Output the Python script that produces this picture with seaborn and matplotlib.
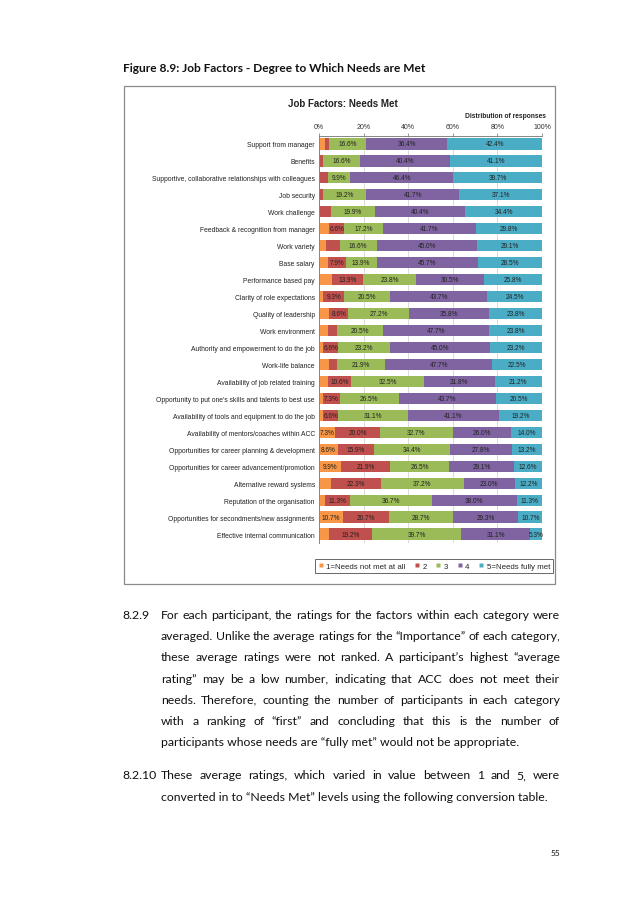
import numpy as np
import matplotlib
matplotlib.use("Agg")
import matplotlib.pyplot as plt
import seaborn as sns
from matplotlib.patches import Rectangle
from matplotlib.lines import Line2D

# ---- data (percent of responses) ----
factors = [
    "Support from manager",
    "Benefits",
    "Supportive, collaborative relationships with colleagues",
    "Job security",
    "Work challenge",
    "Feedback & recognition from manager",
    "Work variety",
    "Base salary",
    "Performance based pay",
    "Clarity of role expectations",
    "Quality of leadership",
    "Work environment",
    "Authority and empowerment to do the job",
    "Work-life balance",
    "Availability of job related training",
    "Opportunity to put one's skills and talents to best use",
    "Availability of tools and equipment to do the job",
    "Availability of mentors/coaches within ACC",
    "Opportunities for career planning & development",
    "Opportunities for career advancement/promotion",
    "Alternative reward systems",
    "Reputation of the organisation",
    "Opportunities for secondments/new assignments",
    "Effective internal communication",
]
needs_1 = [2.7, 0.0, 0.0, 0.0, 0.0, 4.7, 3.3, 4.0, 6.0, 2.0, 4.6, 4.0,
           2.0, 4.6, 3.9, 2.0, 2.0, 7.3, 8.6, 9.9, 5.3, 2.7, 10.7, 4.7]
needs_2 = [1.9, 1.9, 4.0, 2.0, 5.3, 6.6, 6.0, 7.9, 13.9, 9.3, 8.6, 4.0,
           6.6, 3.3, 10.6, 7.3, 6.6, 20.0, 15.9, 21.9, 22.3, 11.3, 20.7, 19.2]
needs_3 = [16.6, 16.6, 9.9, 19.2, 19.9, 17.2, 16.6, 13.9, 23.8, 20.5, 27.2, 20.5,
           23.2, 21.9, 32.5, 26.5, 31.1, 32.7, 34.4, 26.5, 37.2, 36.7, 28.7, 39.7]
needs_4 = [36.4, 40.4, 46.4, 41.7, 40.4, 41.7, 45.0, 45.7, 30.5, 43.7, 35.8, 47.7,
           45.0, 47.7, 31.8, 43.7, 41.1, 26.0, 27.8, 29.1, 23.0, 38.0, 29.3, 31.1]
needs_5 = [42.4, 41.1, 39.7, 37.1, 34.4, 29.8, 29.1, 28.5, 25.8, 24.5, 23.8, 23.8,
           23.2, 22.5, 21.2, 20.5, 19.2, 14.0, 13.2, 12.6, 12.2, 11.3, 10.7, 5.3]
levels = ["1=Needs not met at all", "2", "3", "4", "5=Needs fully met"]
xticks = [0, 20, 40, 60, 80, 100]

para_1 = [
    "For each participant, the ratings for the factors within each category were",
    "averaged. Unlike the average ratings for the \u201cImportance\u201d of each category,",
    "these average ratings were not ranked. A participant\u2019s highest \u201caverage",
    "rating\u201d may be a low number, indicating that ACC does not meet their",
    "needs. Therefore, counting the number of participants in each category",
    "with a ranking of \u201cfirst\u201d and concluding that this is the number of",
    "participants whose needs are \u201cfully met\u201d would not be appropriate.",
]
para_2 = [
    "These average ratings, which varied in value between 1 and 5, were",
    "converted in to \u201cNeeds Met\u201d levels using the following conversion table.",
]

colors = ["#F79646", "#C0504D", "#9BBB59", "#8064A2", "#4BACC6"]
chart_font = "Liberation Sans"
body_font = "Lato"

sns.set_style("white")
plt.rcParams["font.family"] = [chart_font, "DejaVu Sans"]

W, H = 638, 903
fig = plt.figure(figsize=(W / 100, H / 100), dpi=100)

def fx(px):
    return px / W

def fy(py):
    return 1 - py / H

# chart frame
fig.patches.append(Rectangle((fx(124), fy(585)), fx(555) - fx(124), fy(87) - fy(585),
                             transform=fig.transFigure, fill=False,
                             edgecolor="#8a8a8a", linewidth=0.9))

ax = fig.add_axes([fx(319), fy(543.5), fx(542) - fx(319), fy(136.5) - fy(543.5)])

series = [needs_1, needs_2, needs_3, needs_4, needs_5]
cum = np.cumsum(np.array(series), axis=0)
# draw totals from the back so the stacks show each level
for k in range(4, -1, -1):
    sns.barplot(x=cum[k], y=factors, orient="y", color=colors[k], saturation=1,
                width=0.66, linewidth=0, ax=ax, zorder=2)

for k, vals in enumerate(series):
    for i, v in enumerate(vals):
        if v >= 6.5 or k == 4:
            ax.text(cum[k][i] - v / 2, i, "%.1f%%" % v, ha="center", va="center",
                    fontsize=4.7, color="#222222", zorder=3)

ax.set_xlim(0, 100)
ax.set_ylim(len(factors) - 0.5, -0.5)
ax.set_xlabel("")
ax.set_ylabel("")
ax.xaxis.tick_top()
ax.set_xticks(xticks)
ax.set_xticklabels(["%d%%" % t for t in xticks], fontsize=5, color="#333333")
ax.tick_params(axis="x", length=2.5, width=0.6, color="#868686", pad=1.5)
ax.tick_params(axis="y", which="major", length=0, labelsize=4.9, pad=3,
               labelcolor="#222222")
ax.set_yticks(np.arange(-0.5, len(factors), 1), minor=True)
ax.tick_params(axis="y", which="minor", length=3, width=0.6, color="#868686")
ax.grid(axis="x", color="#d4d4d4", linewidth=0.6, zorder=0)
ax.set_axisbelow(True)
for side in ["right", "bottom"]:
    ax.spines[side].set_visible(False)
for side in ["left", "top"]:
    ax.spines[side].set_color("#868686")
    ax.spines[side].set_linewidth(0.7)

fig.text(fx(343), fy(104), "Job Factors: Needs Met", ha="center", va="center",
         fontsize=7, fontweight="bold", color="#222222")
fig.text(fx(546), fy(116), "Distribution of responses", ha="right", va="center",
         fontsize=4.8, fontweight="bold", color="#222222")

handles = [Line2D([], [], marker="s", linestyle="none", markersize=3.3,
                  markerfacecolor=c, markeredgecolor="none") for c in colors]
leg = fig.legend(handles, levels, loc="center", bbox_to_anchor=(fx(434), fy(567)),
                 ncol=5, fontsize=5.7, frameon=True, fancybox=False,
                 edgecolor="#404040", handlelength=0.7, handletextpad=0.35,
                 columnspacing=1.1, borderpad=0.4)
leg.get_frame().set_linewidth(0.7)

# page text
fig.text(fx(123), fy(68), "Figure 8.9: Job Factors - Degree to Which Needs are Met",
         ha="left", va="center", fontsize=8.6, fontweight="bold", family=body_font,
         color="#111111")

renderer = fig.canvas.get_renderer()
body_size = 8.8
x_left, x_right = 161, 560

def put_line(line, y, last):
    if last:
        fig.text(fx(x_left), fy(y), line, ha="left", va="baseline",
                 fontsize=body_size, family=body_font, color="#111111")
        return
    words = line.split(" ")
    widths = []
    for w in words:
        t = fig.text(0, 0, w, fontsize=body_size, family=body_font)
        widths.append(t.get_window_extent(renderer).width)
        t.remove()
    gap = (x_right - x_left - sum(widths)) / (len(words) - 1)
    x = x_left
    for w, wd in zip(words, widths):
        fig.text(fx(x), fy(y), w, ha="left", va="baseline",
                 fontsize=body_size, family=body_font, color="#111111")
        x += wd + gap

line_gap = 21.2
y0 = 619
fig.text(fx(122), fy(y0), "8.2.9", ha="left", va="baseline", fontsize=body_size,
         family=body_font, color="#111111")
for i, line in enumerate(para_1):
    put_line(line, y0 + i * line_gap, i == len(para_1) - 1)

y1 = 779.5
fig.text(fx(122), fy(y1), "8.2.10", ha="left", va="baseline", fontsize=body_size,
         family=body_font, color="#111111")
for i, line in enumerate(para_2):
    put_line(line, y1 + i * line_gap, i == len(para_2) - 1)

fig.text(fx(560), fy(856), "55", ha="right", va="baseline", fontsize=6,
         family=body_font, color="#111111")

fig.savefig("out.png", dpi=100)
